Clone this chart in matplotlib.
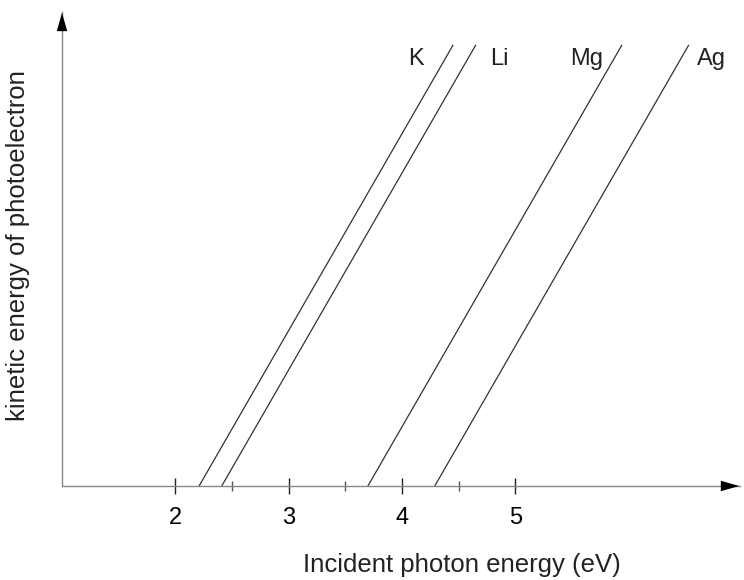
import matplotlib.pyplot as plt
import numpy as np

# work functions (eV)
metals = ['K', 'Li', 'Mg', 'Ag']
thresholds = [2.21, 2.41, 3.70, 4.29]
ke_top = 2.24          # kinetic energy at top of the drawn lines
major_ticks = [2, 3, 4, 5]
minor_ticks = [2.5, 3.5, 4.5]

plt.rcParams['font.family'] = ['Liberation Sans', 'DejaVu Sans']

fig = plt.figure(figsize=(7.44, 5.8), dpi=100)
W, H = 744, 580
x0_px, y0_px = 62, 486
px_per_unit = 113.3
ax = fig.add_axes([x0_px / W, (H - y0_px) / H, (W - x0_px) / W, y0_px / H])
ax.set_xlim(1, 1 + (W - x0_px) / px_per_unit)
y_px_per_unit = px_per_unit * 441 / 254
ax.set_ylim(0, y0_px / y_px_per_unit)

for m, phi in zip(metals, thresholds):
    xs = np.array([phi, phi + ke_top])
    ax.plot(xs, xs - phi, color='#333333', lw=0.9)

label_dx = {'K': -0.33, 'Li': 0.21, 'Mg': -0.31, 'Ag': 0.2}
for m, phi in zip(metals, thresholds):
    ax.text(phi + ke_top + label_dx[m], ke_top - 0.07, m, fontsize=17,
            ha='center', va='center', color='#222222')

for s in ['top', 'right']:
    ax.spines[s].set_visible(False)
for s in ['left', 'bottom']:
    ax.spines[s].set_color('#888888')
    ax.spines[s].set_linewidth(1.0)
ytop = (y0_px - 12) / y_px_per_unit
ax.spines['left'].set_bounds(0, ytop)
ax.spines['bottom'].set_bounds(1, 1 + (740 - x0_px) / px_per_unit)

ax.set_xticks(major_ticks)
ax.set_xticks(minor_ticks, minor=True)
ax.set_yticks([])
ax.tick_params(axis='x', which='major', direction='inout', length=12,
               width=1.0, color='#222222', labelsize=17, pad=9)
ax.tick_params(axis='x', which='minor', direction='inout', length=7,
               width=1.0, color='#555555')

# axis arrows
head = dict(arrowstyle='-|>,head_length=0.6,head_width=0.17', color='black',
            lw=0.01, mutation_scale=22)
ax.annotate('', xy=(0, (y0_px - 10) / y0_px), xycoords='axes fraction',
            xytext=(0, 0.9), arrowprops=head)
ax.annotate('', xy=((742 - x0_px) / (W - x0_px), 0), xycoords='axes fraction',
            xytext=(0.95, 0), arrowprops=head)

fig.text(462 / W, 1 - 565 / H, 'Incident photon energy (eV)', fontsize=18.5,
         ha='center', va='center', color='#222222')
fig.text(18 / W, 1 - 246 / H, 'kinetic energy of photoelectron', fontsize=18.5,
         ha='center', va='center', rotation=90, color='#222222')

fig.savefig('out.png', dpi=100)
